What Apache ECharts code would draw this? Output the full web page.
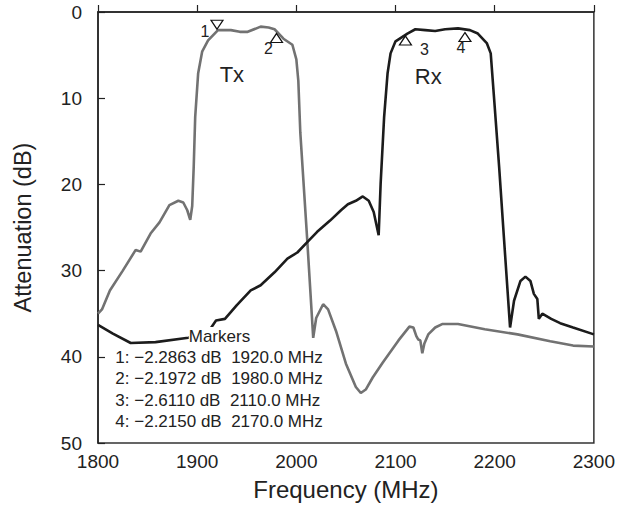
<!DOCTYPE html>
<html>
<head>
<meta charset="utf-8">
<script src="https://cdn.jsdelivr.net/npm/echarts@6/dist/echarts.min.js"></script>
<style>
html,body{margin:0;padding:0;background:#fff;}
#chart{width:618px;height:513px;}
</style>
</head>
<body>
<div id="chart"></div>
<script>
// ---- Data ----
const xTicks = [1800, 1900, 2000, 2100, 2200, 2300];
const yTicks = [0, 10, 20, 30, 40, 50];

const txFreq = [1800,1804,1812,1825,1838,1843,1853,1862,1872,1881,1886,1890,1893,1895,1896.5,1898,1901,1905,1911,1921,1934,1943,1951,1964,1972,1978,1987,1996,2000,2002,2004,2011,2017,2020,2027,2032,2040,2050,2060,2065,2070,2077,2087,2103,2114,2118,2121,2123,2125,2127,2129,2133,2140,2147,2163,2190,2223,2256,2279,2300];
const txDb   = [35.0,34.5,32.3,30.0,27.6,27.8,25.7,24.4,22.4,21.9,22.1,23.0,24.1,22.5,18,12.2,7.1,4.6,3.3,2.1,2.1,2.3,2.3,1.7,1.8,2.0,3.1,3.8,5.5,8,14,26.5,37.8,35.5,33.9,34.5,37,40.8,43.5,44.2,43.8,42.4,40.7,38.1,36.5,36.6,37.6,38.0,38.1,39.6,38.5,37.4,36.6,36.2,36.2,36.8,37.4,38.2,38.7,38.8];

const rxFreq = [1800,1815,1833,1858,1891,1905,1913,1919,1928,1940,1954,1964,1978,1991,2001,2011,2021,2034,2045,2052,2060,2067,2073,2078,2083,2085,2088.5,2092,2095,2100,2112,2120,2130,2140,2150,2163,2175,2183,2192,2196,2199.5,2204.5,2209.5,2215.5,2219.5,2226,2231,2236,2239.5,2243,2244.5,2248,2257,2266,2279,2300];
const rxDb   = [36.3,37.3,38.4,38.3,37.8,37.4,36.8,35.8,35.6,34.0,32.3,31.7,30.2,28.6,27.9,26.7,25.5,24.2,23.0,22.3,21.9,21.4,21.9,23.2,25.9,19.9,12.2,7.1,4.8,3.4,2.5,2.0,2.1,2.2,2.0,1.9,2.1,2.5,3.6,4.8,10.2,18,26.5,36.6,33.5,31.2,30.7,31.2,32.7,33.3,35.6,35.0,35.6,36.1,36.6,37.4];

const markerIds  = ['1', '2', '3', '4'];
const markerFreq = [1920.0, 1980.0, 2110.0, 2170.0];
const markerDb   = [2.2863, 2.1972, 2.6110, 2.2150];

const bandNames = ['Tx', 'Rx'];
const bandLabelAt = [[1935, 7.3], [2133, 7.5]];

const markersTitle = 'Markers';
const markerLines = markerIds.map((id, i) =>
  id + ': \u2212' + markerDb[i].toFixed(4) + ' dB  ' + markerFreq[i].toFixed(1) + ' MHz');

// ---- Chart ----
const chart = echarts.init(document.getElementById('chart'), null, {renderer: 'svg'});
const FONT = '"Liberation Sans", Arial, Helvetica, sans-serif';

const pair = (xs, ys) => xs.map((x, i) => [x, ys[i]]);

// marker symbol styling (down triangle for marker 1, up triangles for the rest)
const markerStyle = [
  {rot: 180, off: [0, -7], lab: [-12, 7]},
  {rot: 0,   off: [0, 7],  lab: [-8, 11]},
  {rot: 0,   off: [0, 6],  lab: [19, 9]},
  {rot: 0,   off: [0, 6],  lab: [-4, 10]}
];

const option = {
  backgroundColor: '#fff',
  animation: false,
  textStyle: {fontFamily: FONT},
  grid: {left: 98, right: 17, top: 12, bottom: 70, show: true, borderColor: '#333', borderWidth: 1.5, backgroundColor: 'transparent'},
  xAxis: {
    type: 'value', min: 1800, max: 2300, interval: 100,
    name: 'Frequency (MHz)', nameLocation: 'middle', nameGap: 34,
    nameTextStyle: {fontSize: 24, color: '#222', fontFamily: FONT},
    axisLine: {show: true, lineStyle: {color: '#222', width: 1.5}},
    axisTick: {show: true, inside: true, length: 7, lineStyle: {color: '#222', width: 1.2}},
    axisLabel: {fontSize: 19, color: '#222', margin: 9, fontFamily: FONT,
      formatter: v => xTicks.includes(v) ? String(v) : ''},
    splitLine: {show: false}
  },
  yAxis: {
    type: 'value', min: 0, max: 50, interval: 10, inverse: true,
    name: 'Attenuation (dB)', nameLocation: 'middle', nameGap: 63, nameRotate: 90,
    nameTextStyle: {fontSize: 23.5, color: '#222', fontFamily: FONT},
    axisLine: {show: true, lineStyle: {color: '#222', width: 1.5}},
    axisTick: {show: true, inside: true, length: 7, lineStyle: {color: '#222', width: 1.2}},
    axisLabel: {fontSize: 19, color: '#222', margin: 16, fontFamily: FONT,
      formatter: v => yTicks.includes(v) ? String(v) : ''},
    splitLine: {show: false}
  },
  series: [
    {
      name: 'Rx', type: 'line', data: pair(rxFreq, rxDb), symbol: 'none', smooth: false,
      lineStyle: {color: '#1c1c1c', width: 2.6}, z: 3
    },
    {
      name: 'Tx', type: 'line', data: pair(txFreq, txDb), symbol: 'none', smooth: false,
      lineStyle: {color: '#727272', width: 2.6}, z: 2
    },
    {
      name: 'markers', type: 'scatter', z: 5,
      data: markerFreq.map((f, i) => ({
        value: [f, markerDb[i]],
        symbolRotate: markerStyle[i].rot,
        symbolOffset: markerStyle[i].off,
        label: {show: true, formatter: markerIds[i], position: 'inside', offset: markerStyle[i].lab}
      })),
      symbol: 'triangle', symbolSize: [12, 9],
      itemStyle: {color: '#fff', borderColor: '#111', borderWidth: 1.2, opacity: 1},
      label: {fontSize: 16, color: '#222', fontFamily: FONT}
    }
  ]
};
chart.setOption(option);

function placeText() {
  const g = [];
  bandNames.forEach((n, i) => {
    const p = chart.convertToPixel({gridIndex: 0}, bandLabelAt[i]);
    g.push({type: 'text', x: p[0], y: p[1], z: 10,
      style: {text: n, fill: '#222', font: '22px ' + FONT, align: 'center', verticalAlign: 'middle'}});
  });
  const t = chart.convertToPixel({gridIndex: 0}, [1891.5, 37.6]);
  g.push({type: 'text', x: t[0], y: t[1], z: 10,
    style: {text: markersTitle, font: '17px ' + FONT, fill: '#222', align: 'left', verticalAlign: 'middle',
      backgroundColor: '#fff', padding: [1, 1, 0, 0]}});
  const l = chart.convertToPixel({gridIndex: 0}, [1817.5, 38.85]);
  g.push({type: 'text', x: l[0], y: l[1], z: 10,
    style: {text: markerLines.join('\n'), font: '17px ' + FONT, fill: '#222', lineHeight: 21.4,
      align: 'left', verticalAlign: 'top'}});
  chart.setOption({graphic: g});
}
placeText();
</script>
</body>
</html>
